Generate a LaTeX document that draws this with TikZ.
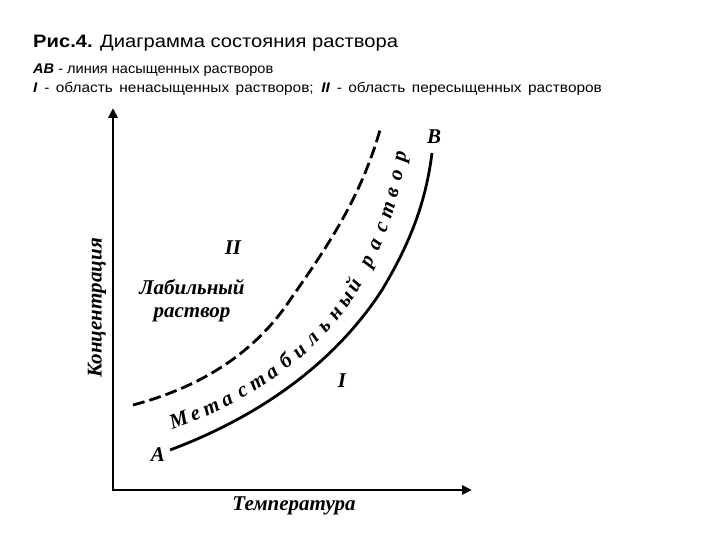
\documentclass[tikz,border=0pt]{standalone}
\usepackage{fontspec}
\setmainfont{Liberation Serif}
\newfontfamily\arialf{Liberation Sans}
\usetikzlibrary{arrows.meta,decorations.markings}
\begin{document}
\begin{tikzpicture}[x=1pt,y=-1pt,
  axis/.style={line width=2.6pt,-{Triangle[length=10pt,width=9pt]}},
  curve/.style={line width=2.8pt},
  dcurve/.style={line width=2.8pt,dash pattern=on 12pt off 5pt},
  lab/.style={font=\fontsize{21}{21}\selectfont\bfseries\itshape,inner sep=0pt},
  mch/.style={transform shape,anchor=base,inner sep=0pt,font=\fontsize{21}{21}\selectfont\bfseries\itshape},
  hdr/.style={anchor=base west,inner sep=0pt,font=\arialf}]
\useasboundingbox (0,0) rectangle (720,540);
\node[hdr,font=\arialf\fontsize{18}{18}\selectfont] (t1) at (33,48) {\scalebox{1.12}[1]{\textbf{Рис.4.} Диаграмма состояния раствора}};
\node[hdr,font=\arialf\fontsize{14}{14}\selectfont] (t2) at (33,74) {\scalebox{1.04}[1]{\textbf{\itshape AB} - линия насыщенных растворов}};
\node[hdr,font=\arialf\fontsize{14}{14}\selectfont] (t3) at (33,93) {\scalebox{1.1}[1]{\makebox[517pt][s]{\textbf{\itshape I} - область ненасыщенных растворов; \textbf{\itshape II} - область пересыщенных растворов}}};
\coordinate (o) at (113,490);
\coordinate (ytip) at (113,108);
\coordinate (xtip) at (472,490);
\draw[axis] ([xshift=-1.3pt]o) -- (xtip);
\draw[axis] ([yshift=1.3pt]o) -- (ytip);
\node[lab,rotate=90] (cy) at (97,308) {Концентрация};
\node[lab] (tx) at (294,506) {Температура};
\draw[curve] (170,450) .. controls (250,420) and (330,370) .. (382,290) .. controls (412,240) and (426,200) .. (432,153);
\draw[dcurve] (133,405) .. controls (190,390) and (250,360) .. (290,300) .. controls (325,250) and (360,200) .. (380,130);
\path[decoration={markings,
  mark=at position 0.025 with {\node[mch]{М};},
  mark=at position 0.071 with {\node[mch]{е};},
  mark=at position 0.117 with {\node[mch]{т};},
  mark=at position 0.163 with {\node[mch]{а};},
  mark=at position 0.209 with {\node[mch]{с};},
  mark=at position 0.255 with {\node[mch]{т};},
  mark=at position 0.301 with {\node[mch]{а};},
  mark=at position 0.347 with {\node[mch]{б};},
  mark=at position 0.393 with {\node[mch]{и};},
  mark=at position 0.439 with {\node[mch]{л};},
  mark=at position 0.485 with {\node[mch]{ь};},
  mark=at position 0.531 with {\node[mch]{н};},
  mark=at position 0.577 with {\node[mch]{ы};},
  mark=at position 0.620 with {\node[mch]{й};},
  mark=at position 0.692 with {\node[mch]{р};},
  mark=at position 0.740 with {\node[mch]{а};},
  mark=at position 0.788 with {\node[mch]{с};},
  mark=at position 0.836 with {\node[mch]{т};},
  mark=at position 0.884 with {\node[mch]{в};},
  mark=at position 0.932 with {\node[mch]{о};},
  mark=at position 0.980 with {\node[mch]{р};}},decorate]
  (172,430) .. controls (250,402) and (315,357) .. (352,300) .. controls (382,252) and (397,212) .. (407,150);
\node[lab] (A) at (158,455) {A};
\node[lab] (B) at (434,137) {B};
\node[lab] (r2) at (233,248) {II};
\node[lab] (r1) at (342,381) {I};
\node[lab,align=center,font=\fontsize{21}{23}\selectfont\bfseries\itshape] (lab1) at (192,301) {Лабильный\\раствор};
\end{tikzpicture}
\end{document}
